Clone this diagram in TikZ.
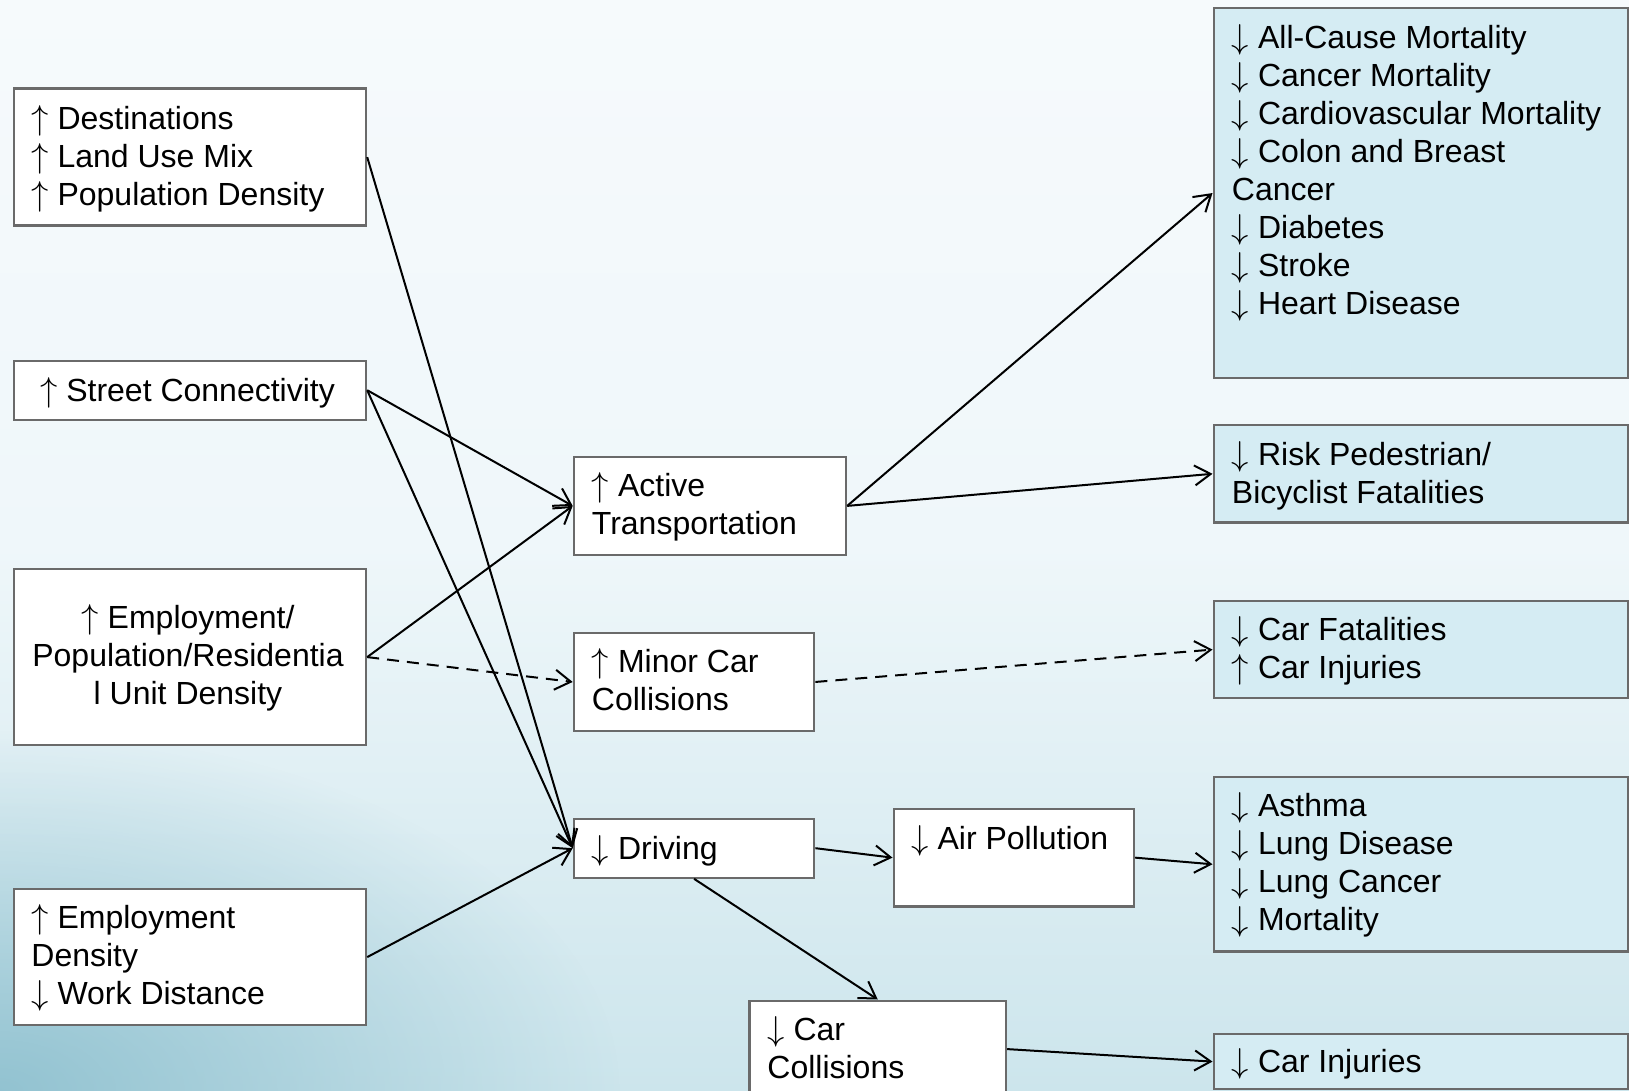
\documentclass[tikz,border=0pt]{standalone}
\usepackage{fontspec}
\setmainfont{Liberation Sans}
\usetikzlibrary{arrows.meta,fadings}
\definecolor{bgtop}{HTML}{F6FAFC}
\definecolor{bgmid}{HTML}{EFF7FA}
\definecolor{bgbot}{HTML}{CCE5EC}
\definecolor{bgdark}{HTML}{8CBFCE}
\definecolor{boxline}{HTML}{6A6A6A}
\definecolor{boxblue}{HTML}{D5ECF3}
\newcommand\myup{$\uparrow$}
\newcommand\mydn{$\downarrow$}
\tikzfading[name=cornerfade, inner color=transparent!0, outer color=transparent!100]
\begin{document}
\begin{tikzpicture}[x=0.5pt,y=-0.5pt,
  whitebox/.style={draw=boxline,line width=1.1pt,fill=white,rectangle,anchor=north west,inner sep=0pt},
  bluebox/.style={whitebox,fill=boxblue},
  txt/.style={anchor=base west,inner sep=0pt,font=\fontsize{16pt}{19pt}\selectfont},
  conn/.style={line width=1pt,-{Straight Barb[length=8pt,width=10pt,line width=1pt]}}
]
\useasboundingbox (0,0) rectangle (1629,1091);
% background
\shade[top color=bgtop,bottom color=bgbot,middle color=bgmid] (0,0) rectangle (1629,1091);
\begin{scope}
\clip (0,0) rectangle (1629,1091);
\fill[bgdark,path fading=cornerfade,fill opacity=0.9] (0,1091) ellipse (620 and 360);
\end{scope}

% boxes
\node[whitebox,minimum width=176.25pt,minimum height=68.5pt] (dest) at (12.5,87.5) {};
\node[whitebox,minimum width=176.25pt,minimum height=29.5pt] (street) at (12.5,359.6) {};
\node[whitebox,minimum width=176.25pt,minimum height=88pt] (emppop) at (12.5,568) {};
\node[whitebox,minimum width=176.25pt,minimum height=68pt] (empdens) at (12.5,888) {};
\node[whitebox,minimum width=136.15pt,minimum height=48.8pt] (active) at (572.7,456) {};
\node[whitebox,minimum width=120.25pt,minimum height=48.85pt] (minor) at (572.7,632) {};
\node[whitebox,minimum width=120.25pt,minimum height=29.5pt] (driving) at (572.7,817.6) {};
\node[whitebox,minimum width=120.25pt,minimum height=48.85pt] (air) at (892.5,807.7) {};
\node[whitebox,minimum width=128.35pt,minimum height=48.5pt] (carcoll) at (748.3,999.5) {};
\node[bluebox,minimum width=207.25pt,minimum height=184.85pt] (mort) at (1212.5,7.1) {};
\node[bluebox,minimum width=207.25pt,minimum height=48.7pt] (risk) at (1212.5,424) {};
\node[bluebox,minimum width=207.25pt,minimum height=48.5pt] (carfat) at (1212.5,600) {};
\node[bluebox,minimum width=207.25pt,minimum height=87.2pt] (lung) at (1212.5,776) {};
\node[bluebox,minimum width=207.25pt,minimum height=27.5pt] (carinj) at (1212.5,1033) {};

% texts
\node[txt] (tdest) at (31,129.5) {\parbox[t]{220pt}{\myup{} Destinations\\\myup{} Land Use Mix\\\myup{} Population Density}};
\node[txt,anchor=base] (tstreet) at (187.5,401) {\myup{} Street Connectivity};
\node[txt,anchor=base] (temppop) at (188,628.5) {\parbox[t]{176pt}{\centering \myup{} Employment/\\Population/Residentia\\l Unit Density}};
\node[txt] (tempdens) at (31,928.5) {\parbox[t]{220pt}{\myup{} Employment\\Density\\\mydn{} Work Distance}};
\node[txt] (tactive) at (591.5,496.5) {\parbox[t]{220pt}{\myup{} Active\\Transportation}};
\node[txt] (tminor) at (591.5,672.5) {\parbox[t]{220pt}{\myup{} Minor Car\\Collisions}};
\node[txt] (tdriving) at (591.5,859) {\mydn{} Driving};
\node[txt] (tair) at (911,849) {\mydn{} Air Pollution};
\node[txt] (tcarcoll) at (767,1040.5) {\parbox[t]{220pt}{\mydn{} Car\\Collisions}};
\node[txt] (tmort) at (1231.5,49) {\parbox[t]{220pt}{\mydn{} All-Cause Mortality\\\mydn{} Cancer Mortality\\\mydn{} Cardiovascular Mortality\\\mydn{} Colon and Breast\\Cancer\\\mydn{} Diabetes\\\mydn{} Stroke\\\mydn{} Heart Disease}};
\node[txt] (trisk) at (1231.5,465.5) {\parbox[t]{220pt}{\mydn{} Risk Pedestrian/\\Bicyclist Fatalities}};
\node[txt] (tcarfat) at (1231.5,640.5) {\parbox[t]{220pt}{\mydn{} Car Fatalities\\\myup{} Car Injuries}};
\node[txt] (tlung) at (1231.5,816.5) {\parbox[t]{220pt}{\mydn{} Asthma\\\mydn{} Lung Disease\\\mydn{} Lung Cancer\\\mydn{} Mortality}};
\node[txt] (tcarinj) at (1231.5,1072.5) {\mydn{} Car Injuries};

% connectors
\draw[conn] (dest.east) -- (driving.west);
\draw[conn] (street.east) -- (active.west);
\draw[conn] (street.east) -- (driving.west);
\draw[conn] (emppop.east) -- (active.west);
\draw[conn,dash pattern=on 6pt off 4pt] (emppop.east) -- (minor.west);
\draw[conn] (empdens.east) -- (driving.west);
\draw[conn] (active.east) -- (mort.west);
\draw[conn] (active.east) -- (risk.west);
\draw[conn,dash pattern=on 6pt off 4pt] (minor.east) -- (carfat.west);
\draw[conn] (driving.east) -- (air.west);
\draw[conn] (air.east) -- (lung.west);
\draw[conn] (driving.south) -- (carcoll.north);
\draw[conn] (carcoll.east) -- (carinj.west);
\end{tikzpicture}
\end{document}
